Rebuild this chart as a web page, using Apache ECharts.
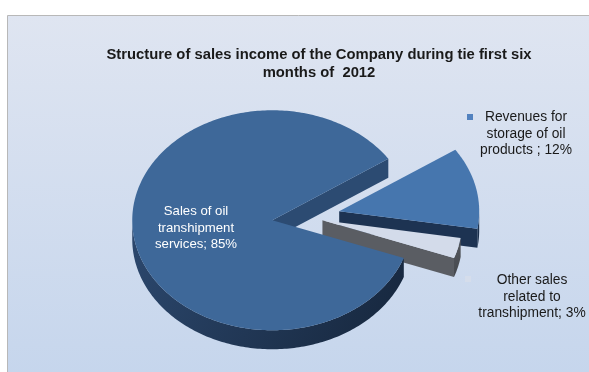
<!DOCTYPE html>
<html>
<head>
<meta charset="utf-8">
<script src="https://cdn.jsdelivr.net/npm/echarts@6/dist/echarts.min.js"></script>
<style>
  html, body { margin: 0; padding: 0; background: #ffffff; }
  #chart { width: 589px; height: 372px; }
</style>
</head>
<body>
<div id="chart"></div>
<script>
// ---- data ----
const categories = [
  'Sales of oil\ntranshipment\nservices',
  'Revenues for\nstorage of oil\nproducts ',
  'Other sales\nrelated to\ntranshipment'
];
const shares = [85, 12, 3];
const titleLines = [
  'Structure of sales income of the Company during tie first six',
  'months of  2012'
];

// ---- 3D pie geometry and styling ----
const FONT = '"Liberation Sans", Arial, sans-serif';
const CX = 306, CY = 217, RX = 140, RY = 110, DEPTH = 19, START_ANGLE = 20;
const explodeDist = [34, 34, 17];
const topColors = ['#3e6899', '#4676ae', '#d3dbea'];
const cutColors = ['#2c4b72', '#1d3352', '#5a5d63'];
const wallColors = [['#2c486e', '#16263c'], ['#22395a', '#172a44'], ['#55585e', '#45484d']];
const paintOrder = [30, 10, 20];
const labelPlace = [
  { x: 196, y: 228, color: '#ffffff', size: 13.2 },
  { x: 526, y: 134, color: '#1a1a1a', size: 13.8 },
  { x: 532, y: 297, color: '#1a1a1a', size: 13.8 }
];
const keyPlace = [null, { x: 470, y: 117, color: '#5282bf' }, { x: 468, y: 279, color: '#d5ddeb' }];

const total = shares.reduce((s, v) => s + v, 0);
const rad = d => d * Math.PI / 180;

function sliceAngles(idx) {
  let before = 0;
  for (let i = 0; i < idx; i++) before += shares[i];
  const a = START_ANGLE + 360 * before / total;
  const b = a + 360 * shares[idx] / total;
  return [a, b];
}

function pt(cx, cy, deg, dy) {
  return [cx + RX * Math.cos(rad(deg)), cy + RY * Math.sin(rad(deg)) + (dy || 0)];
}

function arcPoints(cx, cy, from, to, dy) {
  const pts = [];
  const n = Math.max(2, Math.ceil(Math.abs(to - from)));
  for (let k = 0; k <= n; k++) pts.push(pt(cx, cy, from + (to - from) * k / n, dy));
  return pts;
}

function renderItem(params, api) {
  const i = params.dataIndex;
  const value = api.value(0);
  const [a, b] = sliceAngles(i);
  const mid = (a + b) / 2;
  const e = explodeDist[i];
  const cx = CX + e * Math.cos(rad(mid));
  const cy = CY + e * (RY / RX) * Math.sin(rad(mid));
  const z = paintOrder[i];
  const children = [];

  // curved outer wall: only the front half (0..180 deg) faces the viewer
  for (const base of [0, 360, 720]) {
    const lo = Math.max(a, base), hi = Math.min(b, base + 180);
    if (hi > lo) {
      const pts = arcPoints(cx, cy, lo, hi, 0).concat(arcPoints(cx, cy, hi, lo, DEPTH));
      children.push({
        type: 'polygon', z2: z,
        shape: { points: pts },
        style: {
          fill: new echarts.graphic.LinearGradient(0, 0, 1, 1, [
            { offset: 0, color: wallColors[i][0] },
            { offset: 1, color: wallColors[i][1] }
          ])
        }
      });
    }
  }

  // radial cut faces that turn toward the viewer
  const cutFace = deg => {
    const p = pt(cx, cy, deg);
    children.push({
      type: 'polygon', z2: z + 1,
      shape: { points: [[cx, cy], p, [p[0], p[1] + DEPTH], [cx, cy + DEPTH]] },
      style: { fill: cutColors[i] }
    });
  };
  if (Math.cos(rad(b)) > 0) cutFace(b);
  if (Math.cos(rad(a)) < 0) cutFace(a);

  // top face
  children.push({
    type: 'polygon', z2: z + 2,
    shape: { points: [[cx, cy]].concat(arcPoints(cx, cy, a, b, 0)) },
    style: { fill: topColors[i] }
  });

  // data label with optional legend key
  const lp = labelPlace[i];
  children.push({
    type: 'text', z2: 100,
    style: {
      text: categories[i] + '; ' + value + '%',
      x: lp.x, y: lp.y,
      align: 'center', verticalAlign: 'middle',
      font: lp.size + 'px ' + FONT, lineHeight: 16.5,
      fill: lp.color
    }
  });
  const kp = keyPlace[i];
  if (kp) {
    children.push({
      type: 'rect', z2: 100,
      shape: { x: kp.x - 3, y: kp.y - 3, width: 6, height: 6 },
      style: { fill: kp.color }
    });
  }

  return { type: 'group', children };
}

const chart = echarts.init(document.getElementById('chart'), null, { renderer: 'canvas' });
chart.setOption({
  animation: false,
  graphic: [
    {
      type: 'rect', z: -10, silent: true,
      shape: { x: 7.5, y: 15.5, width: 600, height: 400 },
      style: {
        fill: new echarts.graphic.LinearGradient(0, 0, 0, 1, [
          { offset: 0, color: '#dfe5f1' },
          { offset: 1, color: '#c3d4ec' }
        ]),
        stroke: '#b8b8b8', lineWidth: 1
      }
    },
    {
      type: 'text', z: 10,
      style: {
        text: titleLines.join('\n'),
        x: 319, y: 64,
        align: 'center', verticalAlign: 'middle',
        font: 'bold 14.8px ' + FONT, lineHeight: 18.5,
        fill: '#1a1a1a'
      }
    }
  ],
  series: [{
    type: 'custom',
    coordinateSystem: 'none',
    renderItem: renderItem,
    data: shares.map(v => [v])
  }]
});
</script>
</body>
</html>
